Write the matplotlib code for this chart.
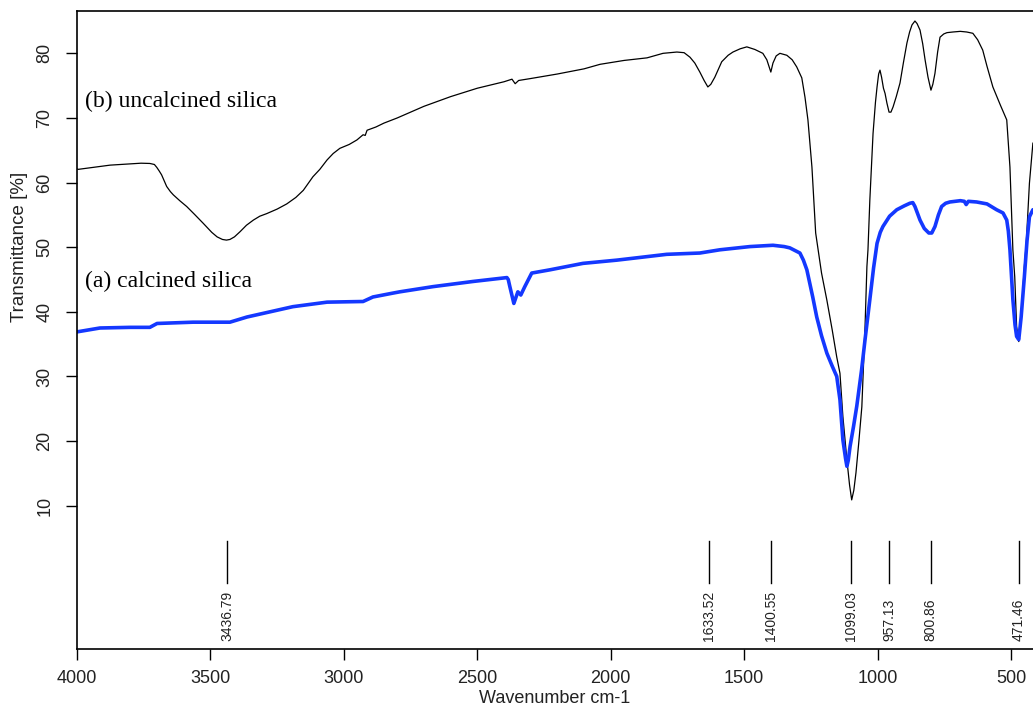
import matplotlib
matplotlib.use("Agg")
import matplotlib.pyplot as plt

# ---- data ----
wn_b = [4000, 3995, 3876, 3800, 3760, 3727, 3710, 3701, 3692, 3683, 3664, 3650, 3639, 3615,
        3589, 3560, 3527, 3495, 3475, 3455, 3440, 3427, 3410, 3389, 3365, 3339, 3315, 3289,
        3250, 3214, 3180, 3152, 3116, 3090, 3063, 3040, 3015, 2980, 2951, 2928, 2920, 2913,
        2880, 2850, 2800, 2700, 2600, 2500, 2400, 2370, 2358, 2345, 2300, 2200, 2100,
        2040, 1950, 1864, 1804, 1752, 1725, 1703, 1685, 1666, 1650, 1636, 1625, 1610, 1584,
        1560, 1542, 1515, 1490, 1460, 1430, 1415, 1400, 1392, 1380, 1366, 1340, 1320, 1303,
        1284, 1272, 1261, 1246, 1232, 1210, 1190, 1170, 1153, 1141, 1130, 1115, 1105, 1097,
        1089, 1081, 1070, 1059, 1047, 1040, 1036, 1029, 1017, 1008, 1002, 996, 991, 985,
        978, 972, 965, 957, 950, 942, 930, 916, 903, 890, 880, 871, 860, 852, 841, 831,
        822, 811, 800, 793, 785, 775, 766, 752, 740, 718, 690, 666, 643, 625, 606, 590,
        568, 540, 516, 504, 493, 486, 479, 471, 462, 450, 443, 431, 418]
tr_b = [62.1, 62.05, 62.7, 62.9, 63.0, 62.96, 62.8, 62.35, 61.8, 61.2, 59.4, 58.6, 58.1, 57.2,
        56.3, 55.1, 53.7, 52.3, 51.6, 51.2, 51.1, 51.2, 51.6, 52.4, 53.4, 54.2, 54.8, 55.2,
        55.9, 56.7, 57.7, 58.8, 60.9, 62.05, 63.5, 64.5, 65.3, 65.9, 66.6, 67.4, 67.3, 68.1,
        68.6, 69.2, 70.0, 71.8, 73.3, 74.6, 75.6, 76.0, 75.3, 75.8, 76.1, 76.8, 77.6,
        78.3, 78.9, 79.3, 80.0, 80.2, 80.1, 79.4, 78.5, 77.1, 75.8, 74.8, 75.2, 76.3, 78.7,
        79.7, 80.2, 80.7, 81.0, 80.6, 80.0, 79.0, 77.1, 78.5, 79.6, 80.0, 79.7, 79.0, 77.9,
        76.2, 73.2, 69.7, 62.4, 52.2, 46.0, 41.8, 37.2, 33.0, 30.5, 23.8, 17.1, 13.2, 10.9,
        12.4, 15.1, 20.0, 25.3, 37.7, 47.0, 49.6, 57.3, 67.6, 72.4, 74.8, 76.8, 77.4, 76.3,
        74.6, 73.8, 72.3, 70.9, 70.9, 71.7, 73.3, 75.4, 78.6, 81.6, 83.3, 84.4, 85.0, 84.6, 83.6, 81.5,
        79.0, 76.3, 74.3, 75.2, 76.9, 80.2, 82.5, 83.0, 83.2, 83.3, 83.4, 83.3, 83.1, 82.1, 80.5, 78.0,
        74.8, 72.0, 69.7, 62.4, 49.6, 45.4, 37.7, 35.4, 39.2, 47.0, 50.5, 59.9, 66.1]

wn_a = [4000, 3914, 3800, 3727, 3700, 3565, 3427, 3363, 3191, 3063, 2928, 2891, 2816,
        2790, 2666, 2516, 2389, 2384, 2378, 2363, 2348, 2337, 2322, 2296, 2228, 2104, 1977,
        1790, 1666, 1591, 1478, 1392, 1350, 1329, 1310, 1291, 1278, 1265, 1254, 1243, 1228,
        1210, 1190, 1170, 1153, 1141, 1130, 1120, 1115, 1110, 1103, 1090, 1078, 1060, 1047,
        1029, 1015, 1002, 990, 980, 955, 928, 900, 879, 868, 860, 850, 841, 825, 808, 797, 785,
        772, 760, 745, 729, 690, 675, 668, 660, 629, 590, 554, 530, 516, 510, 504, 493, 485,
        479, 471, 462, 450, 440, 431, 418]
tr_a = [36.9, 37.5, 37.6, 37.6, 38.2, 38.4, 38.4, 39.2, 40.8, 41.5, 41.6, 42.3, 42.9,
        43.1, 43.9, 44.7, 45.3, 45.0, 43.9, 41.3, 43.1, 42.6, 43.9, 46.0, 46.5, 47.5, 48.0,
        48.9, 49.1, 49.6, 50.1, 50.3, 50.1, 49.9, 49.5, 49.1, 48.0, 46.5, 44.4, 42.3, 39.2,
        36.3, 33.6, 31.6, 30.0, 26.4, 20.2, 17.3, 16.1, 17.0, 19.2, 22.3, 25.4, 31.0, 35.7,
        41.9, 46.8, 50.6, 52.3, 53.2, 54.8, 55.8, 56.4, 56.8, 56.9, 56.3, 55.2, 54.2, 52.9, 52.2, 52.2, 53.2,
        55.0, 56.3, 56.8, 57.0, 57.2, 57.1, 56.6, 57.1, 57.0, 56.7, 55.8, 55.3, 54.2, 52.5, 49.6, 41.9, 38.0,
        36.2, 35.7, 39.2, 45.4, 51.0, 54.7, 55.8]

peaks = [3436.79, 1633.52, 1400.55, 1099.03, 957.13, 800.86, 471.46]
peak_labels = ["3436.79", "1633.52", "1400.55", "1099.03", "957.13", "800.86", "471.46"]

xticks = [4000, 3500, 3000, 2500, 2000, 1500, 1000, 500]
yticks = [10, 20, 30, 40, 50, 60, 70, 80]

plt.rcParams['font.family'] = ['Liberation Sans', 'DejaVu Sans']

W, H = 1033, 710
fig = plt.figure(figsize=(W / 100, H / 100), dpi=100)
ax = fig.add_axes([77 / W, 1 - 649 / H, (W - 77) / W, (649 - 11) / H])

ax.plot(wn_b, tr_b, color='black', lw=0.9)
ax.plot(wn_a, tr_a, color='#1438ff', lw=2.6, solid_joinstyle='round', solid_capstyle='round')

for p, lab in zip(peaks, peak_labels):
    ax.plot([p, p], [-1.9, 4.6], color='black', lw=1.0)
    ax.text(p, -11.0, lab, rotation=90, ha='center', va='bottom', fontsize=10, color='#222222')

ax.text(3970, 71.74, "(b) uncalcined silica", family='Liberation Serif', fontsize=17,
        va='baseline', ha='left')
ax.text(3970, 43.84, "(a) calcined silica", family='Liberation Serif', fontsize=17,
        va='baseline', ha='left')

ax.set_xlim(4000, 417.6)
ax.set_ylim(-12.17, 86.55)
ax.set_xticks(xticks)
ax.set_xticklabels([str(t) for t in xticks])
ax.set_yticks(yticks)
ax.set_yticklabels([str(t) for t in yticks])
ax.tick_params(axis='both', direction='out', length=8, width=1.0, labelsize=13,
               labelcolor='#222222')
ax.tick_params(axis='x', pad=7)
ax.tick_params(axis='y', pad=9)
for lab in ax.get_yticklabels():
    lab.set_rotation(90)
    lab.set_va('center')
    lab.set_ha('right')

for s in ['left', 'top', 'bottom']:
    ax.spines[s].set_linewidth(1.2)
ax.spines['right'].set_visible(False)

ax.set_xlabel("Wavenumber cm-1", fontsize=13, labelpad=2, color='#222222')
fig.text(20 / W, 1 - 247 / H, "Transmittance [%]", rotation=90, ha='center', va='center',
         fontsize=13.5, color='#222222')

fig.savefig("out.png", dpi=100)
